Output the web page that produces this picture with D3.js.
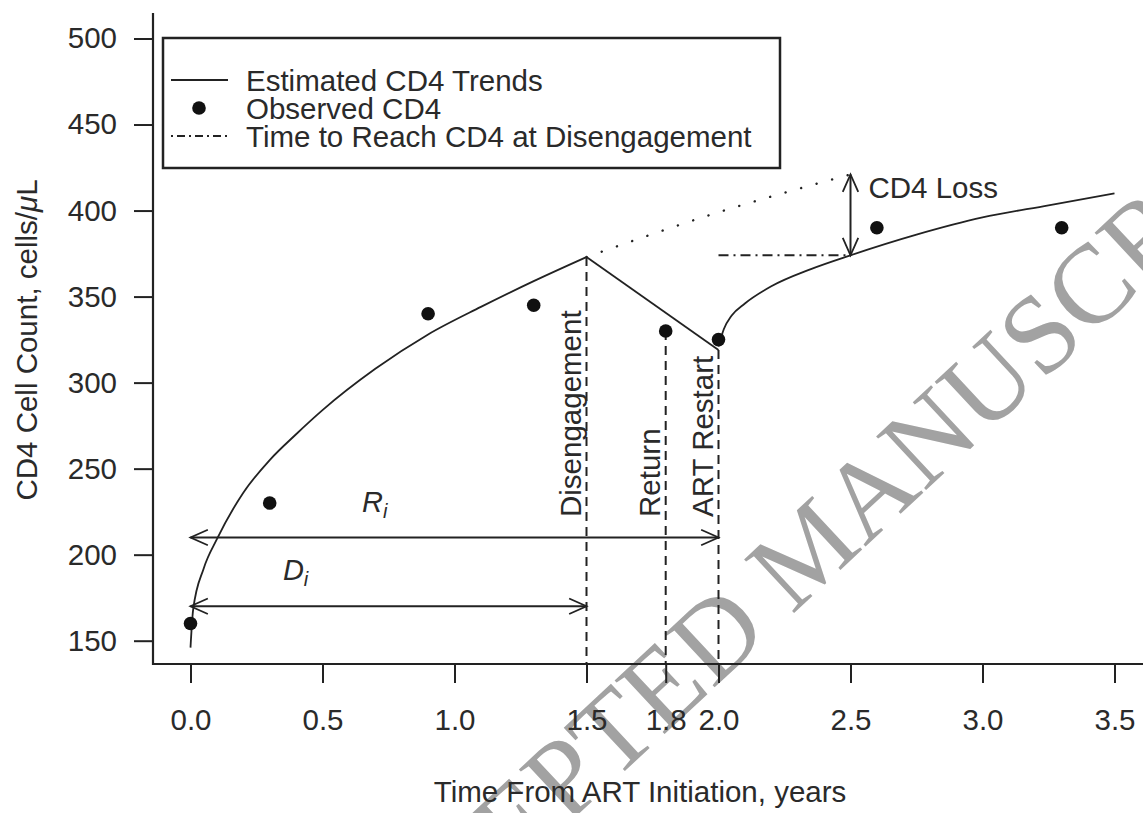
<!DOCTYPE html>
<html>
<head>
<meta charset="utf-8">
<script src="https://cdn.jsdelivr.net/npm/d3@7"></script>
<style>
  body { margin: 0; background: #fff; }
  svg { display: block; font-family: "Liberation Sans", Arial, Helvetica, sans-serif; }
</style>
</head>
<body>
<svg id="chart" width="1143" height="813"></svg>
<script>
// observed CD4 counts
const obsYears = [0, 0.3, 0.9, 1.3, 1.8, 2.0, 2.6, 3.3];
const obsCD4 = [160, 230, 340, 345, 330, 325, 390, 390];

// estimated trend from ART initiation to disengagement
const preYears = [0, 0.01, 0.05, 0.1, 0.2, 0.3, 0.4, 0.5, 0.7, 0.9, 1.1, 1.3, 1.5];
const preCD4 = [146, 168, 192, 209, 236, 255, 270, 284, 308, 328, 344, 359, 373];

// decline while out of care
const offYears = [1.5, 2.0];
const offCD4 = [373, 319];

// recovery after ART restart
const postYears = [2.0, 2.02, 2.05, 2.1, 2.2, 2.35, 2.5, 2.75, 3.0, 3.25, 3.5];
const postCD4 = [321, 331, 339, 346, 356, 366, 374, 386, 396, 403, 410];

// trend had there been no disengagement
const cfYears = [1.5, 2.0, 2.5];
const cfCD4 = [373, 399, 421];

// events
const eventNames = ['Disengagement', 'Return', 'ART Restart'];
const eventYears = [1.5, 1.8, 2.0];
const eventCD4 = [373, 330, 319];

// CD4 loss at 2.5 years, reached again at 2.0 years
const lossYear = 2.5;
const lossStart = 2.0;
const lossLow = 374;
const lossHigh = 421;

// R_i and D_i intervals
const intervalNames = ['R', 'D'];
const intervalEnds = [2.0, 1.5];
const intervalCD4 = [210, 170];
const intervalLabelYears = [0.65, 0.35];
const intervalLabelCD4 = [225, 185];

const xTicks = [0, 0.5, 1.0, 1.5, 1.8, 2.0, 2.5, 3.0, 3.5];
const yTicks = [150, 200, 250, 300, 350, 400, 450, 500];

const legendLabels = ['Estimated CD4 Trends', 'Observed CD4', 'Time to Reach CD4 at Disengagement'];

const ink = '#222';
const textInk = '#2a2a2a';
const fontSize = 29.5;

const svg = d3.select('#chart');

// plot frame
const frame = { left: 153, top: 13, bottom: 664, right: 1143 };

const x = d3.scaleLinear().domain([0, 3.5]).range([190.5, 1114.5]);
const y = d3.scaleLinear().domain([150, 500]).range([640.7, 38.5]);

// watermark sits underneath everything
svg.append('text')
  .attr('transform', 'translate(834,576) rotate(-43)')
  .attr('text-anchor', 'middle')
  .style('font-family', '"Liberation Serif", "Times New Roman", serif')
  .style('font-size', '112px')
  .style('fill', '#a2a2a2')
  .text('ACCEPTED MANUSCRIPT');

const g = svg.append('g');

// axes
const xAxis = g.append('g')
  .attr('transform', `translate(0,${frame.bottom})`)
  .call(d3.axisBottom(x)
    .tickValues(xTicks)
    .tickFormat(d3.format('.1f'))
    .tickSize(19)
    .tickPadding(26));

const yAxis = g.append('g')
  .attr('transform', `translate(${frame.left},0)`)
  .call(d3.axisLeft(y)
    .tickValues(yTicks)
    .tickSize(19)
    .tickPadding(17));

[xAxis, yAxis].forEach(a => {
  a.select('.domain').remove();
  a.selectAll('.tick line').attr('stroke', ink).attr('stroke-width', 2);
  a.selectAll('.tick text')
    .attr('fill', textInk)
    .style('font-size', fontSize + 'px')
    .style('font-family', '"Liberation Sans", Arial, sans-serif');
});

g.append('path')
  .attr('d', `M${frame.left},${frame.top}V${frame.bottom}H${frame.right}`)
  .attr('fill', 'none')
  .attr('stroke', ink)
  .attr('stroke-width', 2.2);

// axis titles
g.append('text')
  .attr('x', 640)
  .attr('y', 802)
  .attr('text-anchor', 'middle')
  .attr('fill', textInk)
  .style('font-size', fontSize + 'px')
  .text('Time From ART Initiation, years');

const yTitle = g.append('text')
  .attr('transform', 'translate(37,340) rotate(-90)')
  .attr('text-anchor', 'middle')
  .attr('fill', textInk)
  .style('font-size', fontSize + 'px');
yTitle.append('tspan').text('CD4 Cell Count, cells/');
yTitle.append('tspan').style('font-style', 'italic').text('\u03bc');
yTitle.append('tspan').text('L');

// lines
const line = d3.line()
  .x(d => x(d[0]))
  .y(d => y(d[1]));

const trendLine = d3.line()
  .x(d => x(d[0]))
  .y(d => y(d[1]))
  .curve(d3.curveMonotoneX);

const pre = preYears.map((t, i) => [t, preCD4[i]]);
const off = offYears.map((t, i) => [t, offCD4[i]]);
const post = postYears.map((t, i) => [t, postCD4[i]]);
const cf = cfYears.map((t, i) => [t, cfCD4[i]]);

[pre, post].forEach(seg => {
  g.append('path')
    .attr('d', trendLine(seg))
    .attr('fill', 'none')
    .attr('stroke', ink)
    .attr('stroke-width', 1.8);
});

g.append('path')
  .attr('d', line(off))
  .attr('fill', 'none')
  .attr('stroke', ink)
  .attr('stroke-width', 1.8);

g.append('path')
  .attr('d', trendLine(cf))
  .attr('fill', 'none')
  .attr('stroke', ink)
  .attr('stroke-width', 2.4)
  .attr('stroke-linecap', 'round')
  .attr('stroke-dasharray', '0.1,16');

// event lines and labels
eventYears.forEach((t, i) => {
  g.append('line')
    .attr('x1', x(t)).attr('x2', x(t))
    .attr('y1', y(eventCD4[i])).attr('y2', frame.bottom)
    .attr('stroke', ink)
    .attr('stroke-width', 2)
    .attr('stroke-dasharray', '9,6');

  g.append('text')
    .attr('transform', `translate(${x(t) - 6},517) rotate(-90)`)
    .attr('fill', textInk)
    .style('font-size', fontSize + 'px')
    .text(eventNames[i]);
});

// open arrow heads on both ends
function arrow(x1, y1, x2, y2) {
  const len = 19, half = 0.42;
  g.append('line')
    .attr('x1', x1).attr('y1', y1).attr('x2', x2).attr('y2', y2)
    .attr('stroke', ink).attr('stroke-width', 2);
  [[x1, y1, x2, y2], [x2, y2, x1, y1]].forEach(([ax, ay, bx, by]) => {
    const a = Math.atan2(ay - by, ax - bx);
    const p = [
      [ax - len * Math.cos(a - half), ay - len * Math.sin(a - half)],
      [ax, ay],
      [ax - len * Math.cos(a + half), ay - len * Math.sin(a + half)]
    ];
    g.append('path')
      .attr('d', d3.line()(p))
      .attr('fill', 'none')
      .attr('stroke', ink)
      .attr('stroke-width', 1.8);
  });
}

intervalNames.forEach((name, i) => {
  arrow(x(0), y(intervalCD4[i]), x(intervalEnds[i]), y(intervalCD4[i]));
  const lbl = g.append('text')
    .attr('x', x(intervalLabelYears[i]))
    .attr('y', y(intervalLabelCD4[i]))
    .attr('fill', textInk)
    .style('font-size', '29px')
    .style('font-style', 'italic');
  lbl.append('tspan').text(name);
  lbl.append('tspan').attr('dy', 6).style('font-size', '20px').text('i');
});

// CD4 loss
g.append('line')
  .attr('x1', x(lossStart)).attr('x2', x(lossYear))
  .attr('y1', y(lossLow)).attr('y2', y(lossLow))
  .attr('stroke', ink)
  .attr('stroke-width', 2)
  .attr('stroke-dasharray', '10,5,2,5');

arrow(x(lossYear), y(lossHigh), x(lossYear), y(lossLow));

g.append('text')
  .attr('x', x(lossYear) + 18)
  .attr('y', y(lossHigh) + 24)
  .attr('fill', textInk)
  .style('font-size', fontSize + 'px')
  .text('CD4 Loss');

// observed points
g.selectAll('circle.obs')
  .data(obsYears.map((t, i) => [t, obsCD4[i]]))
  .enter()
  .append('circle')
  .attr('class', 'obs')
  .attr('cx', d => x(d[0]))
  .attr('cy', d => y(d[1]))
  .attr('r', 6.8)
  .attr('fill', '#111');

// legend
const legend = g.append('g').attr('transform', 'translate(163,38)');

legend.append('rect')
  .attr('width', 617)
  .attr('height', 130)
  .attr('fill', '#fff')
  .attr('stroke', ink)
  .attr('stroke-width', 2.5);

const rowY = [42, 70, 98];

legend.append('line')
  .attr('x1', 8).attr('x2', 65)
  .attr('y1', rowY[0]).attr('y2', rowY[0])
  .attr('stroke', ink).attr('stroke-width', 1.8);

legend.append('circle')
  .attr('cx', 36).attr('cy', rowY[1])
  .attr('r', 6.8)
  .attr('fill', '#111');

legend.append('line')
  .attr('x1', 8).attr('x2', 65)
  .attr('y1', rowY[2]).attr('y2', rowY[2])
  .attr('stroke', ink).attr('stroke-width', 1.8)
  .attr('stroke-dasharray', '2,4,8,4');

legend.selectAll('text.row')
  .data(legendLabels)
  .enter()
  .append('text')
  .attr('class', 'row')
  .attr('x', 83)
  .attr('y', (d, i) => rowY[i] + 11)
  .attr('fill', textInk)
  .style('font-size', '29.5px')
  .text(d => d);
</script>
</body>
</html>
